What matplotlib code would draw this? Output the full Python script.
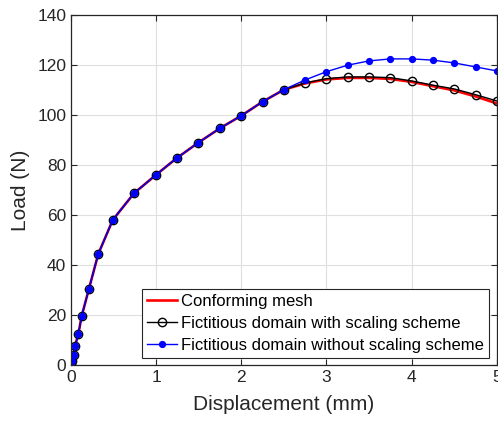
import numpy as np
import matplotlib.pyplot as plt

plt.rcParams['font.family'] = ['Liberation Sans', 'DejaVu Sans']

# shared loading branch
x_rise = [0, 0.01, 0.03, 0.047, 0.086, 0.126, 0.21, 0.32, 0.49, 0.74, 1.0, 1.24,
          1.49, 1.75, 2.0, 2.25, 2.5]
y_rise = [0, 1.7, 4.0, 7.6, 12.4, 19.7, 30.4, 44.4, 58.0, 68.7, 76.1, 82.7,
          88.8, 94.7, 99.7, 105.3, 110.1]

x_tail = [2.75, 3.0, 3.25, 3.5, 3.75, 4.0, 4.25, 4.5, 4.75, 5.0]
conf_tail = [112.6, 114.2, 114.8, 114.8, 114.4, 113.2, 111.5, 109.8, 107.4, 104.6]
scaled_tail = [112.8, 114.5, 115.2, 115.2, 114.9, 113.6, 111.9, 110.4, 108.1, 105.6]
unscaled_tail = [114.0, 117.3, 119.9, 121.6, 122.4, 122.4, 121.9, 120.8, 119.2, 117.6]

disp = x_rise + x_tail
load_conf = y_rise + conf_tail
load_scaled = y_rise + scaled_tail
load_unscaled = y_rise + unscaled_tail

dark = '#262626'

fig = plt.figure(figsize=(4.98, 4.25), dpi=100)
ax = fig.add_axes([0.1426, 0.141, 0.855, 0.824])

ax.plot(disp, load_conf, color='red', lw=1.9, label='Conforming mesh')
ax.plot(disp, load_scaled, color='black', lw=1.0, marker='o', ms=6,
        mfc='none', mec='black', mew=1.0,
        label='Fictitious domain with scaling scheme')
ax.plot(disp, load_unscaled, color='blue', lw=1.0, marker='o', ms=4.2,
        mfc='blue', mec='blue',
        label='Fictitious domain without scaling scheme')

ax.set_xlim(0, 5)
ax.set_ylim(0, 140)
ax.set_xticks(np.arange(0, 6, 1))
ax.set_yticks(np.arange(0, 141, 20))
ax.grid(True, color='#dfdfdf', lw=0.8)
ax.set_axisbelow(True)
ax.tick_params(direction='in', top=True, right=True, labelsize=12.5,
               colors=dark, length=4)
for s in ax.spines.values():
    s.set_color(dark)
    s.set_linewidth(0.9)

ax.set_xlabel('Displacement (mm)', fontsize=15, color=dark, labelpad=7)
ax.set_ylabel('Load (N)', fontsize=15, color=dark, labelpad=5)

leg = ax.legend(loc='lower right', fontsize=12, frameon=True, fancybox=False,
                edgecolor=dark, framealpha=1, handlelength=1.8,
                borderpad=0.3, labelspacing=0.42, handletextpad=0.25,
                borderaxespad=0.45)
leg.get_frame().set_linewidth(0.8)

fig.savefig('out.png', dpi=100)
